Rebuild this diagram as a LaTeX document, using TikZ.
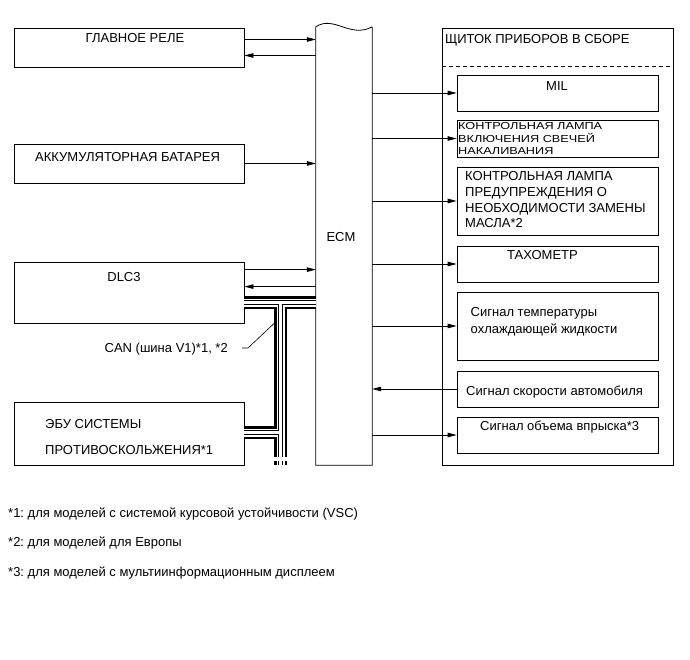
\documentclass[tikz,border=0pt]{standalone}
\usepackage{fontspec}
\setmainfont{Liberation Sans}
\frenchspacing
\usetikzlibrary{arrows.meta}
\usetikzlibrary{calc}
\tikzset{box/.style = {draw, line width=0.8pt, inner sep=0, rectangle}}
\tikzset{lbl/.style = {inner sep=0, text height=9.3pt, text depth=0pt,
                       font=\fontsize{13}{16}\selectfont}}
\tikzset{mlbl/.style = {inner sep=0, align=left, anchor=north west}}
\tikzset{sig/.style = {line width=0.8pt, -{Triangle[length=9pt,width=4.5pt]}}}
\tikzset{leader/.style = {line width=0.6pt}}

\begin{document}
\begin{tikzpicture}[x=1pt, y=-1pt, line join=miter]
  \useasboundingbox (0,0) rectangle (690,660);

  % left column
  \node[box, minimum width=230pt, minimum height=39pt] (relay) at (129,47.5) {};
  \node[box, minimum width=230pt, minimum height=39pt] (batt) at (129,163.5) {};
  \node[box, minimum width=230pt, minimum height=61pt] (dlc) at (129,292.5) {};
  \node[box, minimum width=230pt, minimum height=63pt] (abs) at (129,433.5) {};
  \node[lbl] (relaytxt) at (135,38) {ГЛАВНОЕ РЕЛЕ};
  \node[lbl, anchor=west] (batttxt) at (35,157) {АККУМУЛЯТОРНАЯ БАТАРЕЯ};
  \node[lbl] (dlctxt) at (124,277) {DLC3};
  \node[mlbl, font=\fontsize{13}{26}\selectfont] (abstxt) at (45,419.4)
    {ЭБУ СИСТЕМЫ\\ПРОТИВОСКОЛЬЖЕНИЯ*1};

  % ECM
  \node[inner sep=0, minimum width=56pt, minimum height=438pt] (ecm) at (344,246) {};
  \draw[line width=0.8pt] (ecm.north east) -- (ecm.south east) -- (ecm.south west)
    -- (ecm.north west) .. controls +(18,-12) and +(-22,12) .. (ecm.north east);
  \node[lbl] (ecmtxt) at (341,237) {ECM};

  % combination meter
  \node[box, minimum width=231pt, minimum height=437pt] (panel) at (557.5,246.5) {};
  \node[lbl, anchor=west] (paneltxt) at (445,39) {ЩИТОК ПРИБОРОВ В СБОРЕ};
  \coordinate (sep) at (0,66);
  \draw[line width=0.5pt, dash pattern=on 4pt off 3pt] (panel.west |- sep) -- (panel.east |- sep);

  \node[box, minimum width=201pt, minimum height=36pt] (mil) at (557.5,93) {};
  \node[box, minimum width=201pt, minimum height=37pt] (glow) at (557.5,138.5) {};
  \node[box, minimum width=201pt, minimum height=68pt] (oil) at (557.5,201) {};
  \node[box, minimum width=201pt, minimum height=36pt] (tacho) at (557.5,264) {};
  \node[box, minimum width=201pt, minimum height=68pt] (cool) at (557.5,326) {};
  \node[box, minimum width=201pt, minimum height=36pt] (speed) at (557.5,389) {};
  \node[box, minimum width=201pt, minimum height=36pt] (inj) at (557.5,435) {};

  \node[lbl] (miltxt) at (557,86) {MIL};
  \node[mlbl] (glowtxt) at (458,121.6)
    {\scalebox{1}[0.8]{\fontsize{12.7}{14.4}\selectfont
      \begin{tabular}{@{}l@{}}КОНТРОЛЬНАЯ ЛАМПА\\ВКЛЮЧЕНИЯ СВЕЧЕЙ\\НАКАЛИВАНИЯ\end{tabular}}};
  \node[mlbl, font=\fontsize{13}{15.7}\selectfont] (oiltxt) at (465,171.4)
    {КОНТРОЛЬНАЯ ЛАМПА\\ПРЕДУПРЕЖДЕНИЯ О\\НЕОБХОДИМОСТИ ЗАМЕНЫ\\МАСЛА*2};
  \node[lbl] (tachotxt) at (542.5,255) {ТАХОМЕТР};
  \node[mlbl, font=\fontsize{13}{17}\selectfont] (cooltxt) at (470.5,307.4)
    {Сигнал температуры\\охлаждающей жидкости};
  \node[lbl, anchor=west] (speedtxt) at (466,391) {Сигнал скорости автомобиля};
  \node[lbl, anchor=west] (injtxt) at (480,426) {Сигнал объема впрыска*3};

  % signals
  \coordinate (r1) at ([yshift=8pt]relay.east);
  \coordinate (r2) at ([yshift=-8pt]relay.east);
  \coordinate (d1) at ([yshift=-8pt]dlc.north east);
  \coordinate (d2) at ([yshift=-25pt]dlc.north east);
  \draw[sig] (r1) -- (r1 -| ecm.west);
  \draw[sig] (r2 -| ecm.west) -- (r2);
  \draw[sig] (batt.east) -- (batt.east -| ecm.west);
  \draw[sig] (d1) -- (d1 -| ecm.west);
  \draw[sig] (d2 -| ecm.west) -- (d2);

  \draw[sig] (ecm.east |- mil.west) -- (mil.west);
  \draw[sig] (ecm.east |- glow.west) -- (glow.west);
  \draw[sig] (ecm.east |- oil.west) -- (oil.west);
  \draw[sig] (ecm.east |- tacho.west) -- (tacho.west);
  \draw[sig] (ecm.east |- cool.west) -- (cool.west);
  \draw[sig] (speed.west) -- (ecm.east |- speed.west);
  \draw[sig] (ecm.east |- inj.west) -- (inj.west);

  % CAN bus
  \coordinate (tee) at (280.5,302.5);
  \coordinate (split) at (280.5,432.5);
  \coordinate (cut) at (280.5,452);
  \coordinate (stemend) at (280.5,465);
  \foreach \w/\c in {12.5pt/black, 8pt/white, 4.2pt/black, 2.8pt/white} {
    \draw[line width=\w, \c] (dlc.east |- tee) -- (ecm.west |- tee);
    \draw[line width=\w, \c] (tee) -- (cut);
    \draw[line width=\w, \c] (abs.east |- split) -- (split);
    \draw[line width=\w, \c, dash pattern=on 5pt off 4pt on 4pt off 10pt] (cut) -- (stemend);
  }
  \node[lbl, anchor=east] (cantxt) at (228,348) {CAN (шина V1)*1, *2};
  \coordinate (cantap) at (274.5,323);
  \draw[leader] ([xshift=14pt]cantxt.east) -- ([xshift=20pt]cantxt.east) -- (cantap);

  % notes
  \node[lbl, anchor=west] (fn1) at (8,512.5) {*1: для моделей с системой курсовой устойчивости (VSC)};
  \node[lbl, anchor=west] (fn2) at (8,542) {*2: для моделей для Европы};
  \node[lbl, anchor=west] (fn3) at (8,571.5) {*3: для моделей с мультиинформационным дисплеем};
\end{tikzpicture}
\end{document}
